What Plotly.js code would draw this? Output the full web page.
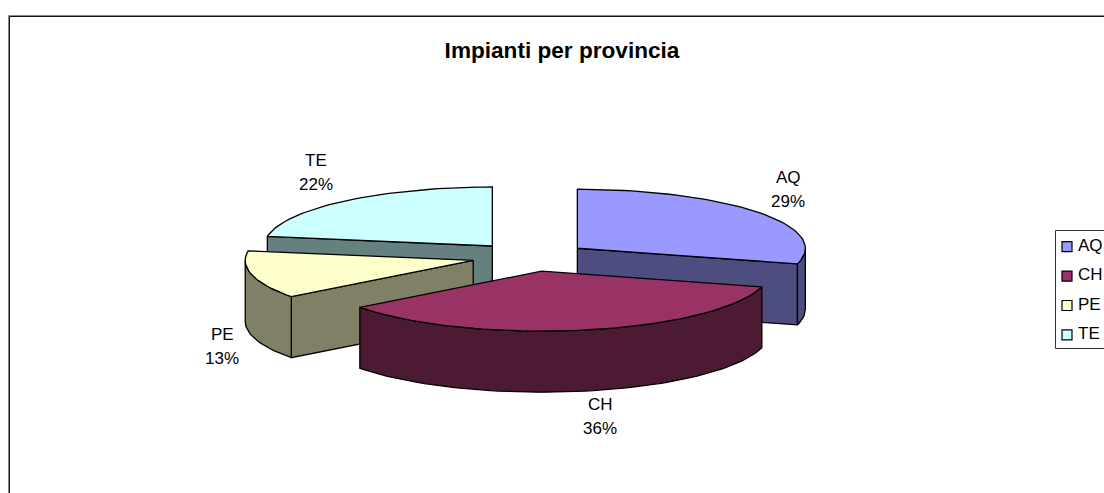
<!DOCTYPE html>
<html>
<head>
<meta charset="utf-8">
<script src="https://cdn.plot.ly/plotly-3.0.1.min.js"></script>
<style>html,body{margin:0;padding:0;background:#fff;overflow:hidden}#chart{width:1104px;height:493px}</style>
</head>
<body>
<div id="chart"></div>
<script>
// data
var categories = ['AQ', 'CH', 'PE', 'TE'];
var shares = [29.2, 35.5, 12.9, 22.4];
var topColors = ['#9999FF', '#993366', '#FFFFCC', '#CCFFFF'];
var sideColors = ['#4D4D80', '#4D1A33', '#808066', '#668080'];

// projection of the exploded 3-D pie, in page pixels
var CX = 530.5, CY = 257, RX = 228, RY_BACK = 59, RY_FRONT = 60, DEPTH = 61, EX = 59, EY = 14.4;
var LABEL_AT = [[788, 189], [600, 416], [222, 346], [316, 172]];
var FONT = 'Liberation Sans, Arial, sans-serif';
var total = shares.reduce(function (a, b) { return a + b; }, 0);
var rad = Math.PI / 180;

var slices = [], acc = 0;
shares.forEach(function (v, i) {
  var a0 = acc / total * 360, a1 = (acc + v) / total * 360;
  acc += v;
  var m = (a0 + a1) / 2 * rad;
  slices.push({ i: i, a0: a0, a1: a1,
    ax: CX + EX * Math.sin(m), ay: CY - EY * Math.cos(m) });
});
function pt(s, a) {
  var c = Math.cos(a * rad);
  return [s.ax + RX * Math.sin(a * rad), s.ay - (c > 0 ? RY_BACK : RY_FRONT) * c];
}
function arc(s, from, to) {
  var out = [], n = Math.max(2, Math.ceil(Math.abs(to - from) / 2));
  for (var k = 0; k <= n; k++) out.push(pt(s, from + (to - from) * k / n));
  return out;
}
function poly(points, color, name) {
  return { type: 'scatter', mode: 'lines', fill: 'toself', fillcolor: color,
    x: points.map(function (p) { return p[0]; }).concat([points[0][0]]),
    y: points.map(function (p) { return p[1]; }).concat([points[0][1]]),
    line: { color: '#000', width: 1.3 }, hoverinfo: 'skip', showlegend: false, name: name };
}
function dropped(points) {
  return points.map(function (p) { return [p[0], p[1] + DEPTH]; });
}

var traces = [];
slices.slice().sort(function (p, q) { return p.ay - q.ay; }).forEach(function (s) {
  var side = sideColors[s.i], top = topColors[s.i], name = categories[s.i];
  var apex = [s.ax, s.ay];
  // cut faces that look towards the viewer
  if (Math.sin(s.a0 * rad) < -1e-6) {
    var e0 = pt(s, s.a0);
    traces.push(poly([apex, e0, [e0[0], e0[1] + DEPTH], [apex[0], apex[1] + DEPTH]], side, name));
  }
  if (Math.sin(s.a1 * rad) > 1e-6) {
    var e1 = pt(s, s.a1);
    traces.push(poly([apex, e1, [e1[0], e1[1] + DEPTH], [apex[0], apex[1] + DEPTH]], side, name));
  }
  // outer rim: front half of the ellipse only
  var r0 = Math.max(s.a0, 90), r1 = Math.min(s.a1, 270);
  if (r1 > r0) {
    var rim = arc(s, r0, r1);
    traces.push(poly(rim.concat(dropped(rim).reverse()), side, name));
  }
  traces.push(poly([apex].concat(arc(s, s.a0, s.a1)), top, name));
});

// legend swatches and names
var LEG_X = 1067, LEG_TEXT_X = 1078, LEG_Y0 = 246.7, LEG_DY = 29.4;
var legY = categories.map(function (c, i) { return LEG_Y0 + i * LEG_DY; });
traces.push({ type: 'scatter', mode: 'markers',
  x: categories.map(function () { return LEG_X; }), y: legY,
  marker: { symbol: 'square', size: 10, color: topColors, line: { color: '#000', width: 1.2 } },
  hoverinfo: 'skip', showlegend: false, cliponaxis: false });
traces.push({ type: 'scatter', mode: 'text',
  x: categories.map(function () { return LEG_TEXT_X; }), y: legY,
  text: categories, textposition: 'middle right',
  textfont: { family: FONT, size: 17, color: '#000' },
  hoverinfo: 'skip', showlegend: false, cliponaxis: false });

var annotations = [];
categories.forEach(function (c, i) {
  [[c, -12], [Math.round(shares[i] / total * 100) + '%', 12]].forEach(function (row) {
    annotations.push({ xref: 'x', yref: 'y', x: LABEL_AT[i][0], y: LABEL_AT[i][1] + row[1],
      text: row[0], showarrow: false, xanchor: 'center', yanchor: 'middle',
      font: { family: FONT, size: 17, color: '#000' } });
  });
});

function frameLine(x0, y0, x1, y1, color) {
  return { type: 'line', xref: 'x', yref: 'y', x0: x0, y0: y0, x1: x1, y1: y1,
    line: { color: color, width: 1 }, layer: 'below' };
}
var layout = {
  width: 1104, height: 493, margin: { l: 0, r: 0, t: 0, b: 0, pad: 0 },
  paper_bgcolor: '#fff', plot_bgcolor: '#fff', showlegend: false,
  title: { text: '<b>Impianti per provincia</b>', x: 562 / 1104, xanchor: 'center',
    y: 1 - 50 / 493, yanchor: 'middle', font: { family: FONT, size: 22.6, color: '#000' } },
  xaxis: { range: [0, 1104], visible: false, fixedrange: true },
  yaxis: { range: [493, 0], visible: false, fixedrange: true },
  annotations: annotations,
  shapes: [
    frameLine(8.5, 15.5, 1104, 15.5, '#888'), frameLine(8.5, 15.5, 8.5, 493, '#888'),
    frameLine(9.5, 16.5, 1104, 16.5, '#111'), frameLine(9.5, 16.5, 9.5, 493, '#111'),
    frameLine(1055.5, 230.5, 1104, 230.5, '#333'), frameLine(1055.5, 230.5, 1055.5, 348.5, '#333'),
    frameLine(1055.5, 348.5, 1104, 348.5, '#333')
  ]
};
Plotly.newPlot('chart', traces, layout, { displayModeBar: false, staticPlot: true });
</script>
</body>
</html>
